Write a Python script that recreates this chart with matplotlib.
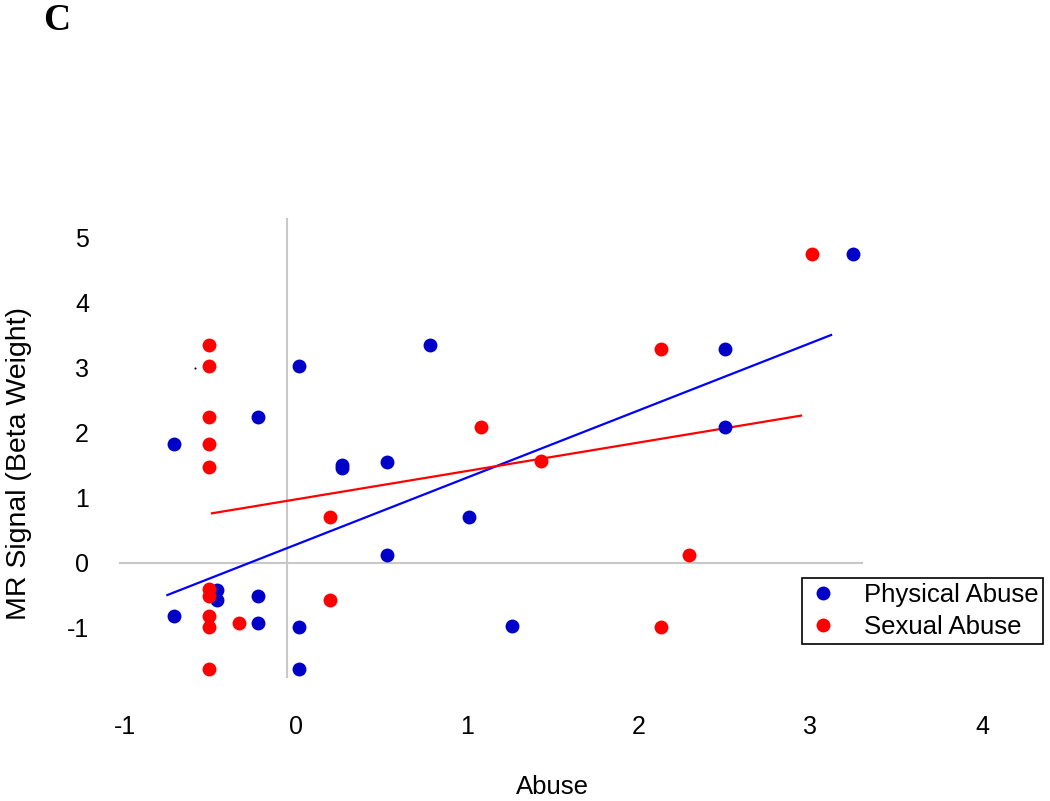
import matplotlib
matplotlib.use("Agg")
import matplotlib.pyplot as plt

plt.rcParams['font.family'] = ['Liberation Sans', 'DejaVu Sans']

# physical abuse (blue)
phys_x = [-0.71, -0.71, -0.46, -0.46, -0.22, -0.22, -0.22, 0.02, 0.02, 0.02,
          0.27, 0.27, 0.53, 0.53, 0.78, 1.01, 1.26, 2.50, 2.50, 3.25]
phys_y = [1.83, -0.82, -0.42, -0.58, 2.24, -0.52, -0.93, 3.03, -0.99, -1.64,
          1.45, 1.50, 1.55, 0.11, 3.34, 0.70, -0.98, 3.28, 2.08, 4.75]

# sexual abuse (red)
sex_x = [-0.51, -0.51, -0.51, -0.51, -0.51, -0.51, -0.51, -0.51, -0.51, -0.51,
         -0.33, 0.20, 0.20, 1.08, 1.43, 2.13, 2.29, 2.13, 3.01]
sex_y = [3.34, 3.03, 2.24, 1.83, 1.47, -0.40, -0.52, -0.82, -0.99, -1.64,
         -0.93, 0.70, -0.58, 2.09, 1.56, 3.28, 0.12, -0.99, 4.75]

# trend lines (end points)
phys_fit_x = [-0.75, 3.12]
phys_fit_y = [-0.50, 3.50]
sex_fit_x = [-0.49, 2.945]
sex_fit_y = [0.757, 2.26]

# stray dot in the original
stray_x = [-0.59]
stray_y = [2.99]

xticks = [-1, 0, 1, 2, 3, 4]
yticks = [-1, 0, 1, 2, 3, 4, 5]

W, H = 1050, 801
fig = plt.figure(figsize=(W / 100, H / 100), dpi=100)
# axes box in pixels: x 100..1000, y 200..700 (from top)
ax = fig.add_axes([100 / W, (H - 700) / H, 900 / W, 500 / H])
ax.set_xlim(-1.1429, 4.105)
ax.set_ylim(-2.115, 5.577)
for s in ax.spines.values():
    s.set_visible(False)

grey = '#C8C8C8'
ax.plot([-0.052, -0.052], [-1.762, 5.285], color=grey, lw=1.5, zorder=1)
ax.plot([-1.026, 3.30], [0, 0], color=grey, lw=1.5, zorder=1)

ax.plot(phys_fit_x, phys_fit_y, color='#0000FF', lw=1.6, zorder=2)
ax.plot(sex_fit_x, sex_fit_y, color='#FF0000', lw=1.6, zorder=2)

ax.plot(phys_x, phys_y, 'o', color='#0000C8', ms=10, mew=0, zorder=3,
        label='Physical Abuse')
ax.plot(sex_x, sex_y, 'o', color='#FF0000', ms=10, mew=0, zorder=4,
        label='Sexual Abuse')
ax.plot(stray_x, stray_y, 'o', color='black', ms=1.5, mew=0, zorder=4)

ax.set_xticks(xticks)
ax.set_yticks(yticks)
ax.set_xticklabels([str(t) for t in xticks])
ax.set_yticklabels([str(t) for t in yticks])
ax.tick_params(length=0, labelsize=18)
ax.tick_params(axis='x', pad=11)
ax.tick_params(axis='y', pad=8)

fig.text(552 / W, 1 - 787 / H, 'Abuse', ha='center', va='center', fontsize=18.5)
fig.text(19 / W, 1 - 463 / H, 'MR Signal (Beta Weight)', ha='center',
         va='center', rotation=90, fontsize=20.5)
fig.text(57 / W, 1 - 21 / H, 'C', ha='center', va='center', fontsize=27,
         fontweight='bold', family='Liberation Serif')

leg = fig.legend(loc='upper left', bbox_to_anchor=(802 / W, 1 - 578 / H),
                 fontsize=18.5, frameon=True, fancybox=False, framealpha=1,
                 edgecolor='black', handletextpad=1.0, borderpad=0.2,
                 labelspacing=0.3, handlelength=1.2, borderaxespad=0)
leg.get_frame().set_linewidth(1.2)

fig.savefig('out.png', dpi=100)
